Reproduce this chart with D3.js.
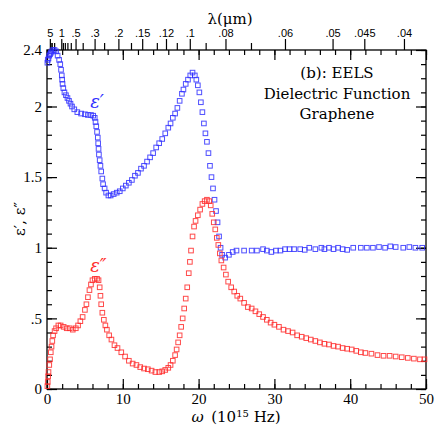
<!DOCTYPE html>
<meta charset="utf-8">
<script src="https://d3js.org/d3.v7.min.js"></script>
<style>
  body { margin: 0; background: #fff; }
  .tick line { stroke: #000; stroke-width: 1.2; }
</style>
<div id="my_dataviz"></div>
<script>

// omega (10^15 Hz) and eps' (blue)
var omegaRe = [0.05,0.1,0.2,0.3,0.4,0.5,0.6,0.8,1.0,1.2,1.4,1.6,1.75,1.85,1.95,2.0,2.05,2.15,2.3,2.5,2.7,2.9,3.1,3.3,3.6,4.0,4.5,5.0,5.4,5.8,6.1,6.3,6.4,6.5,6.6,6.7,6.75,6.8,6.85,6.95,7.05,7.15,7.3,7.4,7.6,7.8,8.1,8.4,8.8,9.2,9.6,10.0,10.4,10.8,11.2,11.6,12.0,12.4,12.8,13.2,13.6,14.0,14.4,14.8,15.2,15.6,16.0,16.3,16.6,16.9,17.2,17.5,17.8,18.0,18.3,18.6,18.9,19.2,19.5,19.7,19.9,20.1,20.3,20.5,20.7,20.9,21.1,21.3,21.5,21.7,21.9,22.1,22.3,22.5,22.7,22.9,23.1,23.5,24.0,24.5,25.0,26.0,27.0,27.7,28.5,29.0,29.6,30.2,30.8,31.4,32.0,32.6,33.4,34.0,34.6,35.4,36.2,36.6,37.2,37.8,38.4,39.0,39.6,40.4,41.4,42.2,43.0,43.8,44.6,45.3,46.0,47.0,47.8,48.6,49.5];
var epsRe = [2.31,2.33,2.34,2.36,2.37,2.38,2.39,2.40,2.40,2.39,2.36,2.33,2.30,2.26,2.22,2.19,2.16,2.13,2.10,2.08,2.06,2.04,2.02,2.00,1.98,1.96,1.95,1.945,1.94,1.94,1.935,1.92,1.89,1.86,1.82,1.78,1.74,1.70,1.66,1.62,1.58,1.54,1.49,1.45,1.42,1.39,1.37,1.37,1.38,1.39,1.40,1.42,1.44,1.46,1.48,1.51,1.53,1.56,1.58,1.61,1.64,1.67,1.71,1.74,1.77,1.81,1.85,1.88,1.92,1.95,1.99,2.04,2.09,2.12,2.16,2.19,2.22,2.24,2.22,2.19,2.15,2.10,2.03,1.96,1.88,1.81,1.75,1.67,1.58,1.50,1.42,1.34,1.26,1.18,1.08,1.00,0.95,0.93,0.95,0.97,0.98,0.98,0.98,0.98,0.99,0.98,0.97,0.98,0.98,0.99,0.99,0.99,0.99,0.985,1.00,0.99,1.00,0.99,1.00,0.99,1.00,0.99,0.985,1.00,1.00,1.00,1.00,1.005,1.00,1.01,1.005,1.00,1.005,1.00,1.00];

// omega (10^15 Hz) and eps'' (red)
var omegaIm = [0.05,0.1,0.15,0.2,0.3,0.4,0.5,0.6,0.7,0.8,1.0,1.2,1.5,1.8,2.2,2.6,3.0,3.4,3.8,4.1,4.4,4.7,5.0,5.2,5.4,5.6,5.8,6.0,6.3,6.6,6.8,6.95,7.05,7.15,7.3,7.5,7.7,7.9,8.2,8.5,8.9,9.3,9.8,10.3,10.8,11.3,11.8,12.3,12.8,13.3,13.8,14.3,14.8,15.2,15.6,16.0,16.3,16.6,16.9,17.1,17.3,17.5,17.7,17.9,18.1,18.3,18.5,18.7,18.85,19.0,19.2,19.4,19.6,19.9,20.2,20.5,20.8,21.1,21.4,21.6,21.8,22.0,22.2,22.4,22.6,22.8,23.0,23.3,23.6,23.9,24.3,24.7,25.1,25.5,26.0,26.5,27.0,27.5,28.0,28.5,29.0,29.5,30.0,30.6,31.2,31.8,32.4,33.0,33.6,34.2,34.8,35.4,36.0,36.6,37.2,37.8,38.4,39.0,39.6,40.2,40.8,41.4,42.0,42.8,43.6,44.4,45.2,46.0,46.8,47.6,48.4,49.2,49.8];
var epsIm = [0.02,0.05,0.09,0.12,0.17,0.21,0.26,0.30,0.34,0.38,0.41,0.43,0.45,0.45,0.44,0.43,0.43,0.42,0.43,0.45,0.48,0.51,0.56,0.60,0.65,0.70,0.74,0.77,0.78,0.78,0.77,0.72,0.66,0.60,0.54,0.49,0.45,0.42,0.38,0.35,0.31,0.29,0.26,0.23,0.20,0.18,0.17,0.155,0.145,0.14,0.13,0.12,0.12,0.125,0.135,0.15,0.17,0.20,0.24,0.28,0.33,0.38,0.44,0.50,0.57,0.64,0.72,0.82,0.90,0.98,1.08,1.15,1.19,1.23,1.27,1.31,1.33,1.34,1.33,1.30,1.24,1.18,1.13,1.07,1.02,0.96,0.91,0.86,0.81,0.76,0.72,0.69,0.66,0.64,0.61,0.58,0.57,0.55,0.53,0.51,0.49,0.47,0.455,0.44,0.42,0.41,0.40,0.38,0.37,0.36,0.35,0.34,0.33,0.32,0.315,0.305,0.30,0.29,0.285,0.28,0.27,0.26,0.255,0.25,0.24,0.235,0.235,0.23,0.225,0.22,0.215,0.21,0.21];

// ticks
var xMajor = [0, 10, 20, 30, 40, 50];
var xMinor = d3.range(0, 50.1, 2);
var yMajor = [0, 0.5, 1, 1.5, 2, 2.4];
var yMinor = d3.range(0, 2.41, 0.1);
var lamMajor = [5, 1, .5, .3, .2, .15, .12, .1, .08, .06, .05, .045, .04];
var lamLabels = ["5", "1", ".5", ".3", ".2", ".15", ".12", ".1", ".08", ".06", ".05", ".045", ".04"];
var lamMinor = [4, 3, 2, .9, .8, .7, .6, .4, .25, .17, .13, .11, .09, .07];

// omega(1e15 Hz) = 2 pi c / lambda(um)
var K = 1.8837;

var W = 436, H = 436;
var margin = {top: 50, right: 10, bottom: 47, left: 47};

var svg = d3.select("#my_dataviz")
  .append("svg")
    .attr("width", W)
    .attr("height", H);

var x = d3.scaleLinear().domain([0, 50]).range([margin.left, W - margin.right]);
var y = d3.scaleLinear().domain([0, 2.4]).range([H - margin.bottom, margin.top]);

var numFont = "'Liberation Serif', serif";
var textFont = "'DejaVu Serif', serif";

function cleanAxis(g) {
  g.select(".domain").remove();
}

// bottom axis
svg.append("g")
  .attr("transform", "translate(0," + y(0) + ")")
  .call(d3.axisBottom(x).tickValues(xMinor).tickSize(-5).tickFormat(""))
  .call(cleanAxis);
svg.append("g")
  .attr("transform", "translate(0," + y(0) + ")")
  .call(d3.axisBottom(x).tickValues(xMajor).tickSizeInner(-10).tickSizeOuter(0).tickPadding(4).tickFormat(d3.format("d")))
  .call(cleanAxis)
  .selectAll("text")
    .style("font-family", numFont)
    .style("font-size", "15px")
    .attr("fill", "#000");

// top inner ticks for omega
svg.append("g")
  .attr("transform", "translate(0," + y(2.4) + ")")
  .call(d3.axisTop(x).tickValues(xMinor).tickSize(-5).tickFormat(""))
  .call(cleanAxis);
svg.append("g")
  .attr("transform", "translate(0," + y(2.4) + ")")
  .call(d3.axisTop(x).tickValues(xMajor).tickSize(-10).tickFormat(""))
  .call(cleanAxis);

// top outer ticks for lambda
svg.append("g")
  .attr("transform", "translate(0," + y(2.4) + ")")
  .call(d3.axisTop(x).tickValues(lamMinor.map(function(l) { return K / l; })).tickSize(7).tickFormat(""))
  .call(cleanAxis);
svg.append("g")
  .attr("transform", "translate(0," + y(2.4) + ")")
  .call(d3.axisTop(x).tickValues(lamMajor.map(function(l) { return K / l; })).tickSize(11).tickPadding(2)
    .tickFormat(function(d, i) { return lamLabels[i]; }))
  .call(cleanAxis)
  .selectAll("text")
    .style("font-family", "'Liberation Sans', Arial, sans-serif")
    .style("font-size", "11px")
    .attr("fill", "#000");

// left axis
svg.append("g")
  .attr("transform", "translate(" + x(0) + ",0)")
  .call(d3.axisLeft(y).tickValues(yMinor).tickSize(-5).tickFormat(""))
  .call(cleanAxis);
svg.append("g")
  .attr("transform", "translate(" + x(0) + ",0)")
  .call(d3.axisLeft(y).tickValues(yMajor).tickSizeInner(-10).tickSizeOuter(0).tickPadding(5)
    .tickFormat(function(d) { return d === 0 ? "0" : String(d).replace(/^0\./, "."); }))
  .call(cleanAxis)
  .selectAll("text")
    .style("font-family", numFont)
    .style("font-size", "15px")
    .attr("fill", "#000");

// right axis
svg.append("g")
  .attr("transform", "translate(" + x(50) + ",0)")
  .call(d3.axisRight(y).tickValues(yMinor).tickSize(-5).tickFormat(""))
  .call(cleanAxis);
svg.append("g")
  .attr("transform", "translate(" + x(50) + ",0)")
  .call(d3.axisRight(y).tickValues(yMajor).tickSize(-10).tickFormat(""))
  .call(cleanAxis);

// frame
svg.append("rect")
  .attr("x", x(0))
  .attr("y", y(2.4))
  .attr("width", x(50) - x(0))
  .attr("height", y(0) - y(2.4))
  .attr("fill", "none")
  .attr("stroke", "#000")
  .attr("stroke-width", 1.3);

// markers
var s = 4.6;
function drawSeries(ws, vs, color) {
  svg.append("g")
    .selectAll("rect")
    .data(ws.map(function(w, i) { return [w, vs[i]]; }))
    .enter()
    .append("rect")
      .attr("x", function(d) { return x(d[0]) - s / 2; })
      .attr("y", function(d) { return y(d[1]) - s / 2; })
      .attr("width", s)
      .attr("height", s)
      .attr("fill", "none")
      .attr("stroke", color)
      .attr("stroke-width", 1)
      .attr("stroke-opacity", 0.85);
}
drawSeries(omegaRe, epsRe, "#2f2fff");
drawSeries(omegaIm, epsIm, "#ff2a2a");

// curve labels
svg.append("text")
  .attr("x", x(5.7))
  .attr("y", y(1.99))
  .style("font-family", textFont)
  .style("font-style", "italic")
  .style("font-size", "18px")
  .attr("fill", "#2f2fff")
  .text("\u03b5\u2032");
svg.append("text")
  .attr("x", x(5.7))
  .attr("y", y(0.83))
  .style("font-family", textFont)
  .style("font-style", "italic")
  .style("font-size", "18px")
  .attr("fill", "#ff2a2a")
  .text("\u03b5\u2033");

// legend text
var note = ["(b): EELS", "Dielectric Function", "Graphene"];
svg.append("g")
  .selectAll("text")
  .data(note)
  .enter()
  .append("text")
    .attr("x", 337)
    .attr("y", function(d, i) { return 78 + i * 20.5; })
    .attr("text-anchor", "middle")
    .style("font-family", textFont)
    .style("font-size", "15px")
    .attr("fill", "#000")
    .text(function(d) { return d; });

// axis titles
svg.append("text")
  .attr("x", 230)
  .attr("y", 24)
  .attr("text-anchor", "middle")
  .style("font-family", textFont)
  .style("font-size", "15px")
  .text("\u03bb(\u03bcm)");

var xt = svg.append("text")
  .attr("x", 236)
  .attr("y", 422)
  .attr("text-anchor", "middle")
  .style("font-family", textFont)
  .style("font-size", "15px");
xt.append("tspan").style("font-style", "italic").text("\u03c9");
xt.append("tspan").text("\u2002(10");
xt.append("tspan").attr("dy", -5).style("font-size", "10px").text("15");
xt.append("tspan").attr("dy", 5).text(" Hz)");

svg.append("text")
  .attr("transform", "translate(25,219) rotate(-90)")
  .attr("text-anchor", "middle")
  .style("font-family", textFont)
  .style("font-size", "15px")
  .text("\u03b5\u2032, \u03b5\u2033");

</script>
